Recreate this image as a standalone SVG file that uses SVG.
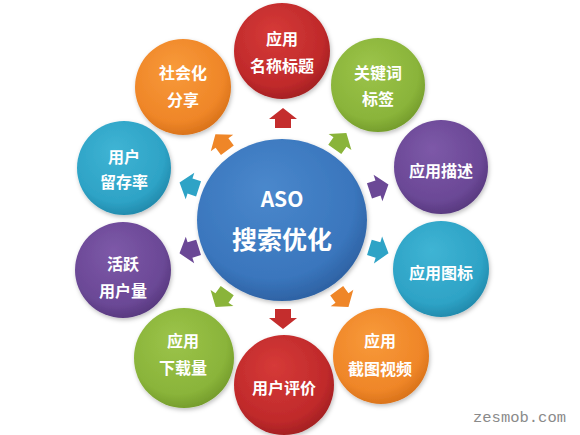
<svg xmlns="http://www.w3.org/2000/svg" width="580" height="435" viewBox="0 0 580 435">
  <defs>
    <radialGradient id="gRed" cx="0.45" cy="0.4" r="0.65" fx="0.4" fy="0.3">
      <stop offset="0" stop-color="#d63a38"/>
      <stop offset="0.75" stop-color="#c02a2b"/>
      <stop offset="1" stop-color="#9c1d20"/>
    </radialGradient>
    <radialGradient id="gOrange" cx="0.45" cy="0.4" r="0.65" fx="0.4" fy="0.3">
      <stop offset="0" stop-color="#f89a3a"/>
      <stop offset="0.75" stop-color="#ef8628"/>
      <stop offset="1" stop-color="#d36d16"/>
    </radialGradient>
    <radialGradient id="gGreen" cx="0.45" cy="0.4" r="0.65" fx="0.4" fy="0.3">
      <stop offset="0" stop-color="#9cc44a"/>
      <stop offset="0.75" stop-color="#8ab43a"/>
      <stop offset="1" stop-color="#6f9628"/>
    </radialGradient>
    <radialGradient id="gPurple" cx="0.45" cy="0.4" r="0.65" fx="0.4" fy="0.3">
      <stop offset="0" stop-color="#7d59a8"/>
      <stop offset="0.75" stop-color="#6b4896"/>
      <stop offset="1" stop-color="#533579"/>
    </radialGradient>
    <radialGradient id="gTeal" cx="0.45" cy="0.4" r="0.65" fx="0.4" fy="0.3">
      <stop offset="0" stop-color="#3fb4d4"/>
      <stop offset="0.75" stop-color="#2ea3c6"/>
      <stop offset="1" stop-color="#1f84a6"/>
    </radialGradient>
    <radialGradient id="gBlue" cx="0.45" cy="0.4" r="0.65" fx="0.4" fy="0.3">
      <stop offset="0" stop-color="#4a88cc"/>
      <stop offset="0.75" stop-color="#3a76bd"/>
      <stop offset="1" stop-color="#2a5c9c"/>
    </radialGradient>
    <filter id="sh" x="-20%" y="-20%" width="140%" height="140%">
      <feDropShadow dx="1" dy="2" stdDeviation="2" flood-color="#000" flood-opacity="0.25"/>
    </filter>
    <polygon id="arr" points="-9,-8 0,-8 0,-14 11,0 0,14 0,8 -9,8"/>
  </defs>
  <style>
    .lbl { font-family: "Noto Sans CJK SC", "Noto Sans", sans-serif; font-weight: bold; font-size: 16px; fill: #ffffff; text-anchor: middle; dominant-baseline: central; }
    .big { font-family: "Noto Sans CJK SC", "Noto Sans", sans-serif; font-weight: bold; fill: #ffffff; text-anchor: middle; dominant-baseline: central; }
    .wm { font-family: "Liberation Mono", "DejaVu Sans Mono", monospace; font-size: 15.5px; fill: #8a8a8a; }
  </style>
  <rect width="580" height="435" fill="#ffffff"/>

  <g id="connectors">
    <use href="#arr" fill="#c42d2d" transform="translate(283,119) rotate(-90)"/>
    <use href="#arr" fill="#ef8628" transform="translate(222,143) rotate(-126.7)"/>
    <use href="#arr" fill="#8ab43a" transform="translate(340,142) rotate(-54.6)"/>
    <use href="#arr" fill="#6b4896" transform="translate(378,188) rotate(-18.4)"/>
    <use href="#arr" fill="#2ea3c6" transform="translate(378,250) rotate(17.1)"/>
    <use href="#arr" fill="#ef8628" transform="translate(342,298) rotate(54)"/>
    <use href="#arr" fill="#c42d2d" transform="translate(283,318) rotate(90)"/>
    <use href="#arr" fill="#8ab43a" transform="translate(222,298) rotate(125.4)"/>
    <use href="#arr" fill="#6b4896" transform="translate(190,250) rotate(162.5)"/>
    <use href="#arr" fill="#2ea3c6" transform="translate(190,186) rotate(-162)"/>
  </g>

  <g id="center">
    <ellipse cx="282" cy="220" rx="85" ry="81" fill="url(#gBlue)" filter="url(#sh)"/>
    <text class="big" x="282" y="198" font-size="21">ASO</text>
    <text class="big" x="282" y="238" font-size="25">搜索优化</text>
  </g>

  <g id="n-title">
    <circle cx="282" cy="51" r="48" fill="url(#gRed)" filter="url(#sh)"/>
    <text class="lbl" x="282" y="38">应用</text>
    <text class="lbl" x="282" y="65">名称标题</text>
  </g>
  <g id="n-keyword">
    <circle cx="378" cy="85" r="47" fill="url(#gGreen)" filter="url(#sh)"/>
    <text class="lbl" x="378" y="72">关键词</text>
    <text class="lbl" x="378" y="98">标签</text>
  </g>
  <g id="n-desc">
    <circle cx="441" cy="167" r="47" fill="url(#gPurple)" filter="url(#sh)"/>
    <text class="lbl" x="441" y="170">应用描述</text>
  </g>
  <g id="n-icon">
    <circle cx="441" cy="269" r="48" fill="url(#gTeal)" filter="url(#sh)"/>
    <text class="lbl" x="441" y="272">应用图标</text>
  </g>
  <g id="n-screenshot">
    <circle cx="381" cy="356" r="48" fill="url(#gOrange)" filter="url(#sh)"/>
    <text class="lbl" x="380" y="340">应用</text>
    <text class="lbl" x="380" y="368">截图视频</text>
  </g>
  <g id="n-review">
    <circle cx="284" cy="385" r="50" fill="url(#gRed)" filter="url(#sh)"/>
    <text class="lbl" x="284" y="387">用户评价</text>
  </g>
  <g id="n-download">
    <circle cx="184" cy="358" r="50" fill="url(#gGreen)" filter="url(#sh)"/>
    <text class="lbl" x="183" y="340">应用</text>
    <text class="lbl" x="183" y="367">下载量</text>
  </g>
  <g id="n-active">
    <circle cx="123" cy="270" r="48" fill="url(#gPurple)" filter="url(#sh)"/>
    <text class="lbl" x="123" y="263">活跃</text>
    <text class="lbl" x="123" y="290">用户量</text>
  </g>
  <g id="n-retention">
    <circle cx="124" cy="168" r="47" fill="url(#gTeal)" filter="url(#sh)"/>
    <text class="lbl" x="124" y="156">用户</text>
    <text class="lbl" x="124" y="181">留存率</text>
  </g>
  <g id="n-share">
    <circle cx="183" cy="87" r="48" fill="url(#gOrange)" filter="url(#sh)"/>
    <text class="lbl" x="183" y="72">社会化</text>
    <text class="lbl" x="183" y="99">分享</text>
  </g>

  <text class="wm" x="473" y="422">zesmob.com</text>
</svg>
